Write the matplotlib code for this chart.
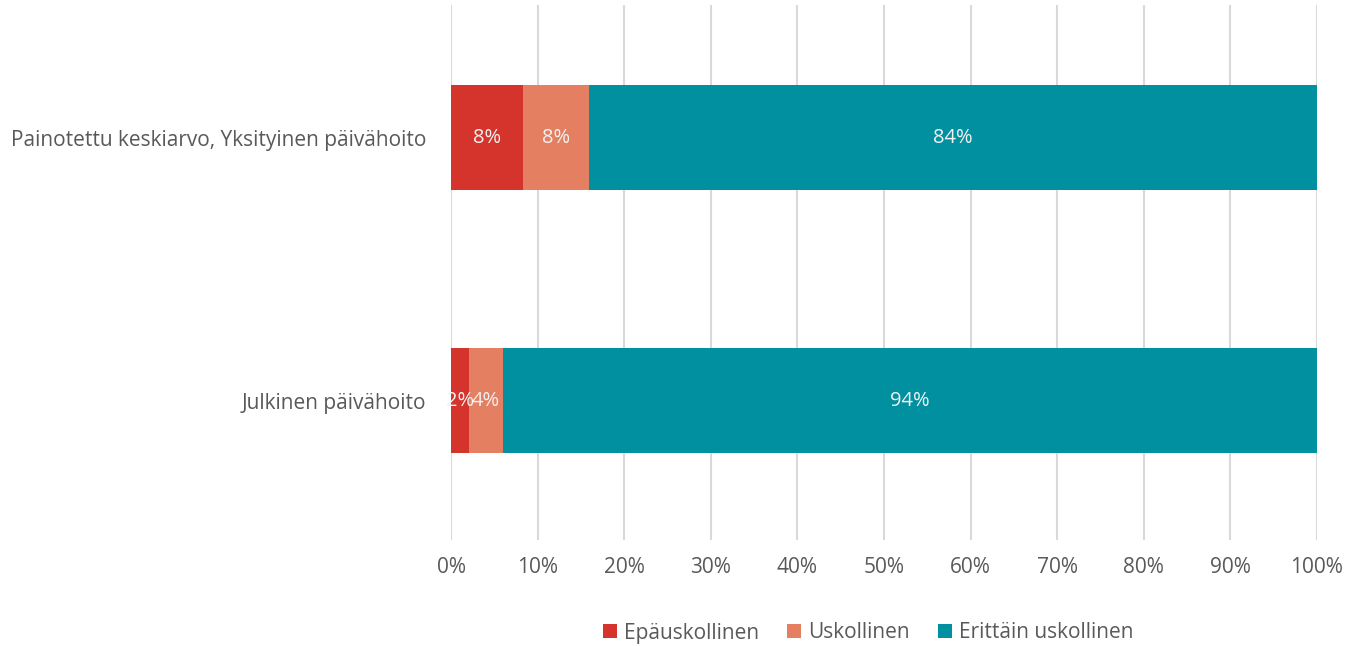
import matplotlib
matplotlib.use("Agg")
import matplotlib.pyplot as plt
from matplotlib.ticker import PercentFormatter, MultipleLocator

plt.rcParams['font.family'] = ['Open Sans', 'DejaVu Sans']

categories = ["Julkinen päivähoito", "Painotettu keskiarvo, Yksityinen päivähoito"]
series_names = ["Epäuskollinen", "Uskollinen", "Erittäin uskollinen"]
epauskollinen = [2.0, 8.3]
uskollinen = [4.0, 7.6]
erittain = [94.0, 84.1]
values = [epauskollinen, uskollinen, erittain]
colors = ["#D4342C", "#E47F62", "#0090A0"]

fig = plt.figure(figsize=(13.59, 6.46), dpi=100)
ax = fig.add_axes([0.332, 0.164, 0.637, 0.828])

ypos = list(range(len(categories)))
left = [0.0] * len(categories)
for name, vals, col in zip(series_names, values, colors):
    bars = ax.barh(ypos, vals, left=left, height=0.4, color=col, label=name, zorder=3)
    for b, v in zip(bars, vals):
        ax.text(b.get_x() + b.get_width() / 2, b.get_y() + b.get_height() / 2,
                f"{round(v):d}%", ha="center", va="center", color="#F2F2F2",
                fontsize=14.5, zorder=4)
    left = [l + v for l, v in zip(left, vals)]

ax.set_xlim(0, 100)
ax.set_ylim(-0.53, 1.504)
ax.set_yticks(ypos)
ax.set_yticklabels(categories)
ax.xaxis.set_major_locator(MultipleLocator(10))
ax.xaxis.set_major_formatter(PercentFormatter(decimals=0))
ax.grid(axis="x", color="#D9D9D9", linewidth=1.5, zorder=0)
for s in ax.spines.values():
    s.set_visible(False)
ax.tick_params(axis="both", length=0, labelsize=15, colors="#595959")
ax.tick_params(axis="x", pad=12)
ax.tick_params(axis="y", pad=18)

leg = fig.legend(loc="center", ncol=3, frameon=False,
                 fontsize=15, handlelength=0.65, handleheight=0.65, columnspacing=1.35,
                 handletextpad=0.35, labelcolor="#595959",
                 bbox_to_anchor=(0.639, 1 - 633 / 646), bbox_transform=fig.transFigure)

fig.savefig("out.png", dpi=100)
